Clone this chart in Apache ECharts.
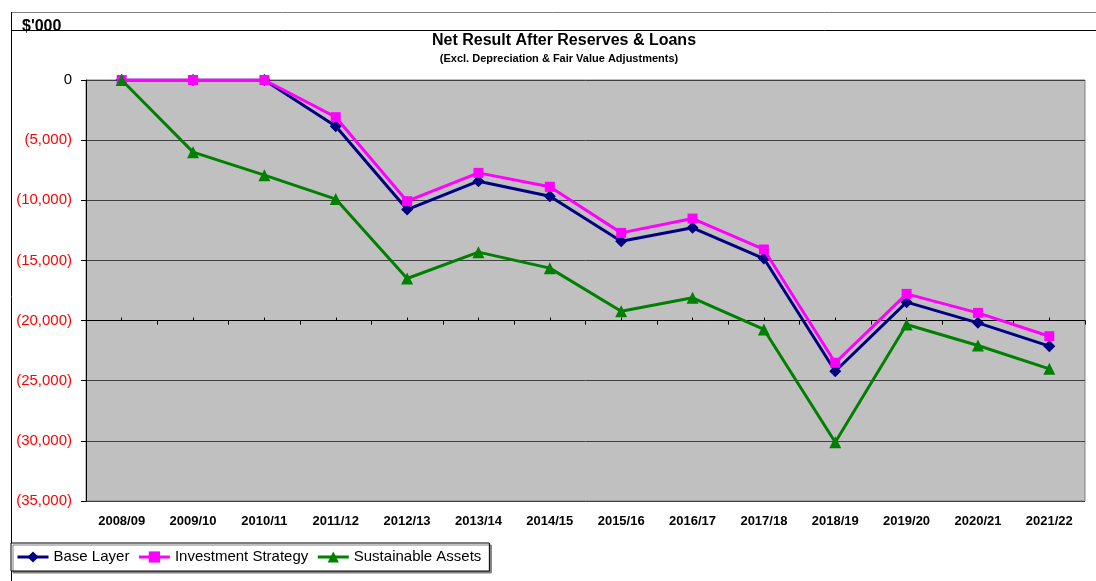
<!DOCTYPE html>
<html>
<head>
<meta charset="utf-8">
<script src="https://cdn.jsdelivr.net/npm/echarts@6/dist/echarts.min.js"></script>
<style>
  html, body { margin: 0; padding: 0; background: #fff; }
  #chart { width: 1096px; height: 581px; }
</style>
</head>
<body>
<div id="chart"></div>
<script>
// Financial years on the category axis
const years = ['2008/09', '2009/10', '2010/11', '2011/12', '2012/13', '2013/14', '2014/15',
               '2015/16', '2016/17', '2017/18', '2018/19', '2019/20', '2020/21', '2021/22'];

// Net result after reserves & loans, $'000
const baseLayer = [0, 0, 0, -3840, -10770, -8410, -9660,
                   -13400, -12290, -14840, -24210, -18470, -20190, -22130];
const investmentStrategy = [0, 0, 0, -3090, -10075, -7720, -8880,
                            -12710, -11520, -14090, -23510, -17780, -19360, -21300];
const sustainableAssets = [0, -6000, -7910, -9900, -16500, -14310, -15640,
                           -19220, -18110, -20740, -30110, -20330, -22070, -24010];

// Value axis range
const yMin = -35000;
const yMax = 0;
const yStep = 5000;
const axisCross = -20000; // the category axis line sits at this value

const FONT = '"Liberation Sans", Arial, sans-serif';

const gridTop = 80, gridBottom = 80, gridLeft = 86, gridRight = 11;
const plotHeight = 581 - gridTop - gridBottom;
const crossOffset = -plotHeight * (axisCross - yMin) / (yMax - yMin);

function fmtValue(v) {
  if (v === 0) return '0';
  const s = Math.abs(v).toLocaleString('en-US');
  return v < 0 ? '(' + s + ')' : s;
}

const chart = echarts.init(document.getElementById('chart'), null, { renderer: 'canvas' });

chart.setOption({
  animation: false,
  backgroundColor: '#ffffff',
  textStyle: { fontFamily: FONT },
  graphic: [
    // page frame lines
    { type: 'line', shape: { x1: 11, y1: 12.5, x2: 1096, y2: 12.5 }, style: { stroke: '#808080', lineWidth: 1 }, z: 1 },
    { type: 'line', shape: { x1: 11.5, y1: 12, x2: 11.5, y2: 581 }, style: { stroke: '#000000', lineWidth: 1 }, z: 1 },
    { type: 'line', shape: { x1: 11, y1: 30.5, x2: 1096, y2: 30.5 }, style: { stroke: '#000000', lineWidth: 1 }, z: 1 },
    { type: 'text', x: 22, y: 27, z: 5,
      style: { text: "$'000", font: 'bold 16px ' + FONT, fill: '#000', textAlign: 'left', textVerticalAlign: 'middle' } },
    { type: 'text', x: 564, y: 41, z: 5,
      style: { text: 'Net Result After Reserves & Loans', font: 'bold 16px ' + FONT, fill: '#000', textAlign: 'center', textVerticalAlign: 'middle' } },
    { type: 'text', x: 559, y: 59, z: 5,
      style: { text: '(Excl. Depreciation & Fair Value Adjustments)', font: 'bold 11px ' + FONT, fill: '#000', textAlign: 'center', textVerticalAlign: 'middle' } }
  ],
  legend: {
    left: 11,
    top: 543,
    orient: 'horizontal',
    padding: [5, 8, 5, 5],
    itemGap: 8,
    itemWidth: 31,
    itemHeight: 14,
    backgroundColor: '#ffffff',
    borderColor: '#000000',
    borderWidth: 1,
    shadowColor: '#808080',
    shadowOffsetX: 2,
    shadowOffsetY: 2,
    shadowBlur: 0,
    lineStyle: { width: 3 },
    textStyle: { fontSize: 15, color: '#000', fontFamily: FONT, lineHeight: 18 },
    data: ['Base Layer', 'Investment Strategy', 'Sustainable Assets']
  },
  grid: {
    left: gridLeft, right: gridRight, top: gridTop, bottom: gridBottom,
    show: true,
    backgroundColor: '#C0C0C0',
    borderColor: '#808080',
    borderWidth: 1
  },
  xAxis: [
    {
      type: 'category',
      data: years,
      boundaryGap: true,
      position: 'bottom',
      axisLine: { show: false },
      axisTick: { show: false },
      splitLine: { show: false },
      axisLabel: { fontSize: 13, fontWeight: 'bold', color: '#000', margin: 14, fontFamily: FONT, interval: 0 }
    },
    {
      // crossing axis line with boundary ticks
      type: 'category',
      data: years,
      boundaryGap: true,
      position: 'bottom',
      offset: crossOffset,
      axisLine: { show: true, onZero: false, lineStyle: { color: '#000', width: 1 } },
      axisTick: { show: true, inside: false, length: 4, interval: 0, lineStyle: { color: '#000', width: 1 } },
      axisLabel: { show: false },
      splitLine: { show: false }
    },
    {
      // mid-category ticks on the crossing axis
      type: 'category',
      data: years,
      boundaryGap: true,
      position: 'bottom',
      offset: crossOffset,
      axisLine: { show: false, onZero: false },
      axisTick: { show: true, inside: true, alignWithLabel: true, length: 3, interval: 0, lineStyle: { color: '#000', width: 1 } },
      axisLabel: { show: false },
      splitLine: { show: false }
    }
  ],
  yAxis: {
    type: 'value',
    min: yMin,
    max: yMax,
    interval: yStep,
    axisLine: { show: true, lineStyle: { color: '#000', width: 1 } },
    axisTick: { show: true, length: 5, inside: false, lineStyle: { color: '#000' } },
    splitLine: { show: true, lineStyle: { color: '#404040', width: 1 } },
    axisLabel: {
      fontSize: 15,
      margin: 14,
      fontFamily: FONT,
      formatter: fmtValue,
      color: function (v) { return Number(v) < 0 ? '#FF0000' : '#000000'; }
    }
  },
  series: [
    {
      name: 'Base Layer',
      type: 'line',
      data: baseLayer,
      symbol: 'diamond',
      symbolSize: 12,
      color: '#000080',
      lineStyle: { color: '#000080', width: 3 },
      itemStyle: { color: '#000080' },
      z: 3
    },
    {
      name: 'Investment Strategy',
      type: 'line',
      data: investmentStrategy,
      symbol: 'rect',
      symbolSize: 10,
      color: '#FF00FF',
      lineStyle: { color: '#FF00FF', width: 3 },
      itemStyle: { color: '#FF00FF' },
      z: 4
    },
    {
      name: 'Sustainable Assets',
      type: 'line',
      data: sustainableAssets,
      symbol: 'triangle',
      symbolSize: 12,
      color: '#008000',
      lineStyle: { color: '#008000', width: 3 },
      itemStyle: { color: '#008000' },
      z: 5
    }
  ]
});
</script>
</body>
</html>
